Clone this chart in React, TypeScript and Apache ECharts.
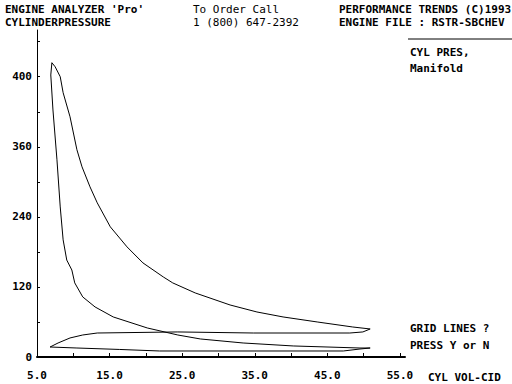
import React, { useEffect, useRef } from "react";
import * as echarts from "echarts";

// Cylinder volume (CID) around the cycle: compression, expansion, exhaust, intake
const cylVolume = [
  50.9, 49.5, 40.3, 33.4, 27.5, 24.4, 20.2, 15.5, 13.0, 11.3, 10.2, 9.8, 9.1, 8.6, 8.2, 7.75, 7.2, 6.9, 7.05,
  7.5, 8.2, 8.6, 9.55, 10.5, 11.2, 12.3, 13.3, 15.1, 17.4, 19.6, 22.4, 23.7, 26.8, 31.6, 35.3, 38.9, 43.6, 48.5, 50.9,
  49.9, 48.1, 34.8, 24.4, 13.3, 11.3, 9.55, 7.9, 6.8,
  10.5, 16.4, 21.9, 47.2, 49.5, 50.9,
];
// Cylinder pressure at the same points
const cylPressure = [
  15.4, 15.4, 18.9, 24, 30.9, 37.7, 49.7, 68.6, 85.7, 102.9, 126.9, 149, 166, 200.6, 257, 337.7, 423, 483, 504,
  497, 480, 452.6, 411.4, 354.9, 325.7, 291.4, 264, 222.9, 188.6, 161.1, 137.1, 126.9, 109.7, 89.1, 77.1, 68.6, 60, 51.4, 48,
  42.9, 41.1, 41.1, 42.9, 41.1, 37.7, 32.6, 24, 17.1,
  15.4, 12.9, 10.3, 10.3, 13.7, 15.4,
];

const xTickValues = [5, 15, 25, 35, 45, 55];
const xTickLabels = ["5.0", "15.0", "25.0", "35.0", "45.0", "55.0"];
const yTickValues = [0, 120, 240, 360, 480];
const yTickLabels = ["0", "120", "240", "360", "400"];

const FONT = "DejaVu Sans Mono";

export default function App() {
  const ref = useRef<HTMLDivElement>(null);
  useEffect(() => {
    if (!ref.current) return;
    const chart = echarts.init(ref.current, undefined, { renderer: "svg" });
    const data = cylVolume.map((v, i) => [v, cylPressure[i]]);
    const txt = (text: string, x: number, y: number, bold = true) => ({
      type: "text",
      x,
      y,
      style: {
        text,
        fill: "#000",
        font: `${bold ? "bold " : ""}11px '${FONT}'`,
        verticalAlign: "middle",
        align: "left",
      },
    });
    chart.setOption({
      animation: false,
      backgroundColor: "#fff",
      grid: { left: 37, right: 107, top: 30, bottom: 27 },
      xAxis: {
        type: "value",
        min: 5,
        max: 55.7,
        interval: 5,
        splitLine: { show: false },
        axisLine: { show: true, onZero: false, lineStyle: { color: "#000", width: 2 } },
        axisTick: { show: true, inside: true, length: 4, lineStyle: { color: "#000" } },
        axisLabel: {
          margin: 13,
          color: "#000",
          fontFamily: FONT,
          fontWeight: "bold",
          fontSize: 11,
          showMaxLabel: false,
          formatter: (v: number) => {
            const i = xTickValues.findIndex((t) => Math.abs(t - v) < 1e-6);
            return i >= 0 ? xTickLabels[i] : "";
          },
        },
      },
      yAxis: {
        type: "value",
        min: 0,
        max: 560,
        interval: 60,
        splitLine: { show: false },
        axisLine: { show: true, onZero: false, lineStyle: { color: "#000", width: 1 } },
        axisTick: { show: true, inside: true, length: 3, lineStyle: { color: "#000" } },
        axisLabel: {
          margin: 5,
          color: "#000",
          fontFamily: FONT,
          fontWeight: "bold",
          fontSize: 11,
          showMaxLabel: false,
          formatter: (v: number) => {
            const i = yTickValues.findIndex((t) => Math.abs(t - v) < 1e-6);
            return i >= 0 ? yTickLabels[i] : "";
          },
        },
      },
      series: [
        {
          type: "line",
          data,
          showSymbol: false,
          symbol: "none",
          lineStyle: { color: "#000", width: 1 },
          smooth: false,
        },
      ],
      graphic: [
        txt("ENGINE ANALYZER 'Pro'", 5, 9),
        txt("CYLINDERPRESSURE", 5, 22),
        txt("To Order Call", 193, 9, false),
        txt("1 (800) 647-2392", 193, 22, false),
        txt("PERFORMANCE TRENDS (C)1993", 339, 9),
        txt("ENGINE FILE : RSTR-SBCHEV", 339, 22),
        {
          type: "line",
          shape: { x1: 408, y1: 39, x2: 512, y2: 39 },
          style: { stroke: "#000", lineWidth: 1 },
        },
        txt("CYL PRES,", 410, 52),
        txt("Manifold", 410, 68),
        txt("GRID LINES ?", 410, 328),
        txt("PRESS Y or N", 410, 345),
        txt("CYL VOL-CID", 428, 377),
      ],
    });
    return () => chart.dispose();
  }, []);
  return (
    <div
      ref={ref}
      style={{ position: "fixed", left: 0, top: 0, width: 512, height: 384, background: "#fff" }}
    />
  );
}
